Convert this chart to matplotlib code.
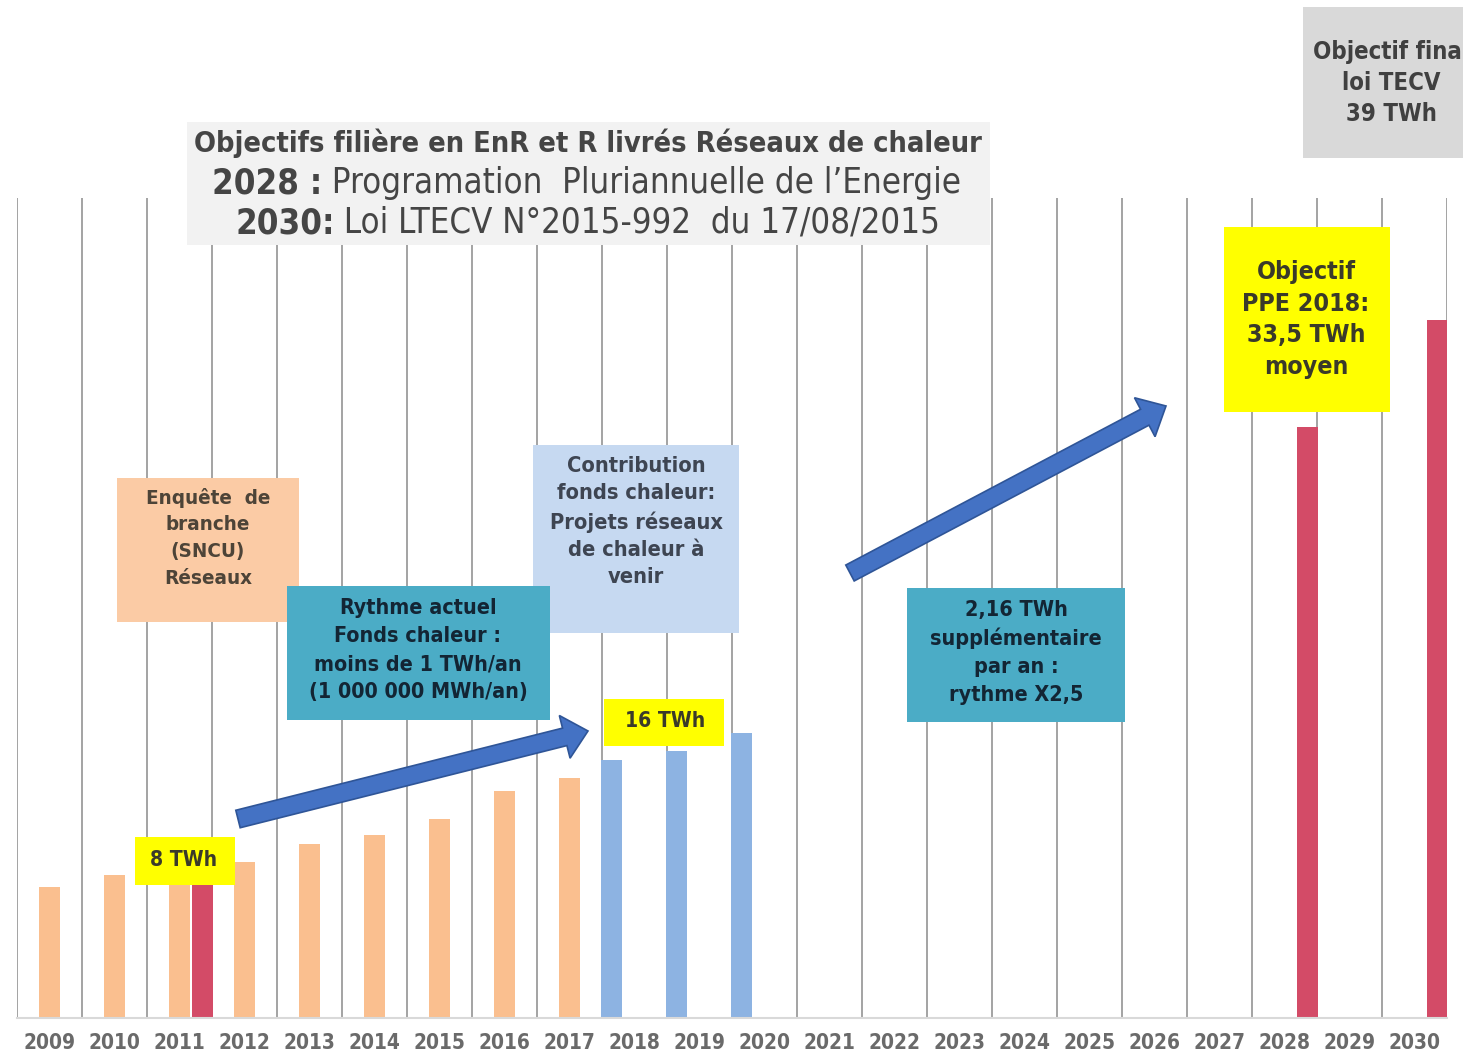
import os
import numpy as np
import matplotlib
matplotlib.use("Agg")
import matplotlib.pyplot as plt
from matplotlib import font_manager as fm
from matplotlib.font_manager import FontProperties
from matplotlib.patches import Rectangle, FancyArrow
from matplotlib.transforms import IdentityTransform

# ---------------- data ----------------
years = ["2009", "2010", "2011", "2012", "2013", "2014", "2015", "2016", "2017", "2018", "2019",
         "2020", "2021", "2022", "2023", "2024", "2025", "2026", "2027", "2028", "2029", "2030"]
hist_years = ["2009", "2010", "2011", "2012", "2013", "2014", "2015", "2016", "2017"]
hist_vals = [7.3, 8.0, 7.6, 8.7, 9.7, 10.2, 11.1, 12.7, 13.4]          # TWh
proj_years = ["2018", "2019", "2020"]
proj_vals = [14.4, 14.9, 15.9]                                          # TWh
target_years = ["2011", "2028", "2030"]
target_vals = [8.0, 33.0, 39.0]                                         # TWh

title_lines = ["Objectifs filière en EnR et R livrés Réseaux de chaleur",
               ("2028 :", " Programation  Pluriannuelle de l’Energie"),
               ("2030:", " Loi LTECV N°2015-992  du 17/08/2015")]

# ---------------- style ----------------
W, H = 1463, 1055
ORANGE = "#fabf8f"
BLUE = "#8db3e2"
RED = "#d34b67"


def find_fp(files, family, weight="normal"):
    for f in fm.fontManager.ttflist:
        if os.path.basename(f.fname) in files:
            return FontProperties(fname=f.fname)
    return FontProperties(family=family, weight=weight)


fp_narrow = find_fp(["LiberationSansNarrow-Regular.ttf", "DejaVuSansCondensed.ttf"], "Liberation Sans")
fp_narrow_b = find_fp(["LiberationSansNarrow-Bold.ttf", "DejaVuSansCondensed-Bold.ttf"], "Liberation Sans", "bold")
fp_box = find_fp(["DejaVuSansCondensed-Bold.ttf"], "DejaVu Sans", "bold")

fig = plt.figure(figsize=(W / 100, H / 100), dpi=100)
renderer = fig.canvas.get_renderer()


def width_at(s, fp, size):
    p = fp.copy()
    p.set_size(size)
    w, h, d = renderer.get_text_width_height_descent(s, p, ismath=False)
    return w


def sized(fp, size):
    p = fp.copy()
    p.set_size(size)
    return p


def fit(s, fp, target):
    return 10.0 * target / width_at(s, fp, 10.0)


def fx(x):
    return x / W


def fy(y):
    return 1 - y / H


# ---------------- axes & bars ----------------
ax = fig.add_axes([fx(17), fy(1018), 1430 / W, 820 / H])
pos = {y: i for i, y in enumerate(years)}
bw = 0.32
ax.bar([pos[y] for y in hist_years], hist_vals, width=bw, color=ORANGE, zorder=2)
ax.bar([pos[y] - 0.35 for y in proj_years], proj_vals, width=bw, color=BLUE, zorder=2)
ax.bar([pos[y] + 0.35 for y in target_years], target_vals, width=bw, color=RED, zorder=2)

ax.set_xlim(-0.5, len(years) - 0.5)
ax.set_ylim(0, 45.8)
ax.set_yticks([])
ax.set_xticks(range(len(years)))
ax.set_xticks(np.arange(-0.5, len(years)), minor=True)
yfp = sized(fp_box, fit("2009", fp_box, 52))
ax.set_xticklabels(years, fontproperties=yfp, color="#6a6a6a")
ax.tick_params(axis="x", which="both", length=0, pad=11)
ax.grid(which="minor", axis="x", color="#a3a3a3", lw=1.4)
ax.grid(which="major", visible=False)
ax.set_axisbelow(True)
for s in ["left", "right", "top"]:
    ax.spines[s].set_visible(False)
ax.spines["bottom"].set_color("#d9d9d9")
ax.spines["bottom"].set_linewidth(1.5)
ax.patch.set_alpha(0)


# ---------------- annotations ----------------
def box(x0, y0, x1, y1, color, z):
    fig.add_artist(Rectangle((fx(x0), fy(y1)), (x1 - x0) / W, (y1 - y0) / H,
                             transform=fig.transFigure, facecolor=color,
                             edgecolor="none", zorder=z))


def lines(cx, ys, texts, fp, size, color, z):
    p = sized(fp, size)
    for y, t in zip(ys, texts):
        fig.text(fx(cx), fy(y), t, ha="center", va="center", fontproperties=p,
                 color=color, zorder=z)


def arrow(x0, y0, x1, y1, z):
    a = FancyArrow(x0, H - y0, x1 - x0, -(y1 - y0), width=18, head_width=44,
                   head_length=24, length_includes_head=True,
                   transform=IdentityTransform(), facecolor="#4472c4",
                   edgecolor="#2f5597", lw=1.2, zorder=z)
    fig.add_artist(a)


# title box
box(187, 122, 990, 245, "#f2f2f2", 5)
s1 = fit(title_lines[0], fp_narrow_b, 788)
lines(588, [143], [title_lines[0]], fp_narrow_b, s1, "#454545", 6)
for (bold, reg), y, target in zip(title_lines[1:], [183, 223], [752, 706]):
    tot10 = width_at(bold, fp_narrow_b, 10) + width_at(reg, fp_narrow, 10)
    s = 10.0 * target / tot10
    wb = width_at(bold, fp_narrow_b, s)
    left = 588 - target / 2
    fig.text(fx(left), fy(y), bold, ha="left", va="center",
             fontproperties=sized(fp_narrow_b, s), color="#454545", zorder=6)
    fig.text(fx(left + wb), fy(y), reg, ha="left", va="center",
             fontproperties=sized(fp_narrow, s), color="#454545", zorder=6)

# top-right grey box (cut at the right edge)
box(1303, 7, 1470, 158, "#d9d9d9", 5)
lines(1391, [52, 83, 114], ["Objectif final", "loi TECV", "39 TWh"], fp_box,
      fit("loi TECV", fp_box, 98), "#404040", 6)

# orange box
t_or = ["Enquête  de", "branche", "(SNCU)", "Réseaux"]
box(117, 478, 299, 622, "#fbcba5", 7)
lines(208, [498, 525, 552, 578], t_or, fp_box, fit(t_or[0], fp_box, 124), "#4d4438", 8)

# light blue box
t_lb = ["Contribution", "fonds chaleur:", "Projets réseaux", "de chaleur à", "venir"]
box(533, 445, 739, 633, "#c6d9f1", 7)
lines(636, [466, 493, 522, 550, 577], t_lb, fp_box, fit(t_lb[2], fp_box, 172), "#3e4552", 8)

# teal box 1
t_t1 = ["Rythme actuel", "Fonds chaleur :", "moins de 1 TWh/an", "(1 000 000 MWh/an)"]
box(287, 586, 550, 720, "#4bacc6", 9)
lines(418, [608, 636, 664, 692], t_t1, fp_box, fit(t_t1[3], fp_box, 220), "#132534", 10)

# teal box 2
t_t2 = ["2,16 TWh", "supplémentaire", "par an :", "rythme X2,5"]
box(907, 588, 1125, 722, "#4bacc6", 9)
lines(1016, [610, 638, 667, 695], t_t2, fp_box, fit(t_t2[1], fp_box, 170), "#132534", 10)

# yellow labels
box(135, 837, 235, 885, "#ffff00", 9)
lines(184, [860], ["8 TWh"], fp_box, fit("8 TWh", fp_box, 67), "#3a3a2a", 10)
box(604, 699, 724, 746, "#ffff00", 9)
lines(665, [721], ["16 TWh"], fp_box, fit("16 TWh", fp_box, 80), "#3a3a2a", 10)
t_y = ["Objectif", "PPE 2018:", "33,5 TWh", "moyen"]
box(1224, 227, 1390, 412, "#ffff00", 9)
lines(1306, [272, 304, 335, 367], t_y, fp_box, fit(t_y[1], fp_box, 127), "#3a3a2a", 10)

# arrows
arrow(238, 819, 588, 731, 11)
arrow(850, 573, 1166, 406, 11)

fig.savefig("out.png", dpi=100, facecolor="white")
